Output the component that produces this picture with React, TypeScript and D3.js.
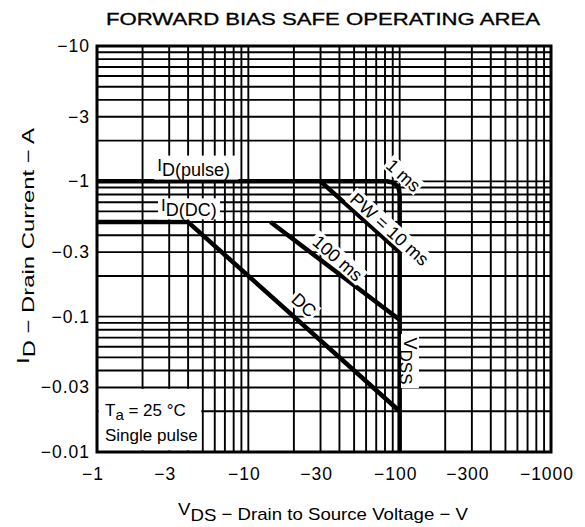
import React from 'react';
import * as d3 from 'd3';

const W = 585;
const H = 527;
const plot = { left: 97, right: 551, top: 46, bottom: 452 };
const FONT = '"Liberation Sans", Arial, Helvetica, sans-serif';

// axis ticks (values are magnitudes; labels carry the minus sign)
const xTickValues = [1, 3, 10, 30, 100, 300, 1000];
const xTickLabels = ['−1', '−3', '−10', '−30', '−100', '−300', '−1000'];
const yTickValues = [10, 3, 1, 0.3, 0.1, 0.03, 0.01];
const yTickLabels = ['−10', '−3', '−1', '−0.3', '−0.1', '−0.03', '−0.01'];

// SOA boundary curves: [ |VDS| (V), |ID| (A) ]
const pulseLimit: [number, number][] = [
  [1, 1], [82, 1], [90, 0.98], [96, 0.93], [99, 0.87], [100, 0.8], [100, 0.01],
];
const dcLimit: [number, number][] = [[1, 0.5], [4, 0.5], [100, 0.02]];
const pw10ms: [number, number][] = [[30, 1], [100, 0.3]];
const pw100ms: [number, number][] = [[14, 0.5], [100, 0.095]];

// annotation anchor points in data space
const ann1ms: [number, number] = [106, 1.11];
const ann10ms: [number, number] = [86, 0.444];
const ann100ms: [number, number] = [39, 0.271];
const annDC: [number, number] = [23.4, 0.122];
const annVDSS: [number, number] = [117, 0.047];
const annIDpulse: [number, number] = [2.5, 1.2];
const annIDdc: [number, number] = [2.65, 0.6];
const noteBox: [number, number, number, number] = [1, 5, 0.01, 0.03];

const x = d3.scaleLog().domain([1, 1000]).range([plot.left, plot.right]);
const y = d3.scaleLog().domain([0.01, 10]).range([plot.bottom, plot.top]);

const gridX: number[] = [];
for (let d = 0; d < 3; d++) for (let k = 1; k <= 9; k++) gridX.push(k * Math.pow(10, d));
gridX.push(1000);
const gridY: number[] = [];
for (let d = -2; d < 1; d++) for (let k = 1; k <= 9; k++) gridY.push(k * Math.pow(10, d));
gridY.push(10);

const line = d3
  .line<[number, number]>()
  .x((d) => x(d[0]))
  .y((d) => y(d[1]));

function RotLabel({ at, angle, size, w, h, children }: any) {
  const px = x(at[0]);
  const py = y(at[1]);
  return (
    <g transform={`translate(${px},${py}) rotate(${angle})`}>
      <rect x={-w / 2} y={-h / 2} width={w} height={h} fill="white" />
      <text x={0} y={size * 0.36} textAnchor="middle" fontSize={size} fontFamily={FONT}>
        {children}
      </text>
    </g>
  );
}

export default function App() {
  const [bx0, bx1, by0, by1] = noteBox;
  return (
    <svg
      width={W}
      height={H}
      style={{ position: 'absolute', left: 0, top: 0, background: 'white' }}
      fontFamily={FONT}
    >
      <rect x={0} y={0} width={W} height={H} fill="white" />
      {/* title */}
      <text x={323} y={25} textAnchor="middle" fontSize={16} textLength={434} lengthAdjust="spacingAndGlyphs"
        stroke="black" strokeWidth={0.3}>
        FORWARD BIAS SAFE OPERATING AREA
      </text>

      {/* grid */}
      <g stroke="black" strokeWidth={1.9}>
        {gridX.map((v, i) => (
          <line key={'gx' + i} x1={x(v)} x2={x(v)} y1={plot.top} y2={plot.bottom} />
        ))}
        {gridY.map((v, i) => (
          <line key={'gy' + i} x1={plot.left} x2={plot.right} y1={y(v)} y2={y(v)} />
        ))}
      </g>

      {/* note box */}
      <rect
        x={x(bx0) + 1.5}
        y={y(by1) + 1.5}
        width={x(bx1) - x(bx0) - 3}
        height={y(by0) - y(by1) - 3}
        fill="white"
      />
      <text x={x(bx0) + 8} y={416} fontSize={17}>
        T<tspan dy={4} fontSize={15}>a</tspan>
        <tspan dy={-4}> = 25 °C</tspan>
      </text>
      <text x={x(bx0) + 8} y={441} fontSize={17}>
        Single pulse
      </text>

      {/* curves */}
      <g fill="none" stroke="black" strokeWidth={4.5} strokeLinejoin="round">
        <path d={line(pulseLimit) || ''} />
        <path d={line(dcLimit) || ''} />
        <path d={line(pw10ms) || ''} />
        <path d={line(pw100ms) || ''} />
      </g>

      {/* frame */}
      <rect
        x={plot.left}
        y={plot.top}
        width={plot.right - plot.left}
        height={plot.bottom - plot.top}
        fill="none"
        stroke="black"
        strokeWidth={3}
      />

      {/* curve annotations */}
      <RotLabel at={ann1ms} angle={42} size={18} w={42} h={17}>1 ms</RotLabel>
      <RotLabel at={ann10ms} angle={42} size={18} w={104} h={18}>PW = 10 ms</RotLabel>
      <RotLabel at={ann100ms} angle={41} size={18} w={64} h={18}>100 ms</RotLabel>
      <RotLabel at={annDC} angle={42} size={18} w={30} h={18}>DC</RotLabel>
      <RotLabel at={annVDSS} angle={90} size={18} w={54} h={18}>
        V<tspan dy={4} fontSize={17}>DSS</tspan>
      </RotLabel>

      {/* ID labels */}
      <rect x={x(annIDpulse[0]) - 3} y={y(annIDpulse[1]) - 15} width={84} height={24} fill="white" />
      <text x={x(annIDpulse[0])} y={y(annIDpulse[1])} fontSize={17}>
        I<tspan dy={5} fontSize={18}>D(pulse)</tspan>
      </text>
      <rect x={x(annIDdc[0]) - 3} y={y(annIDdc[1]) - 13} width={62} height={21} fill="white" />
      <text x={x(annIDdc[0])} y={y(annIDdc[1])} fontSize={17}>
        I<tspan dy={5} fontSize={18}>D(DC)</tspan>
      </text>

      {/* x tick labels */}
      {xTickValues.map((v, i) => (
        <text key={'xt' + i} x={x(v) - 4} y={480} textAnchor="middle" fontSize={17.5} letterSpacing={1}>
          {xTickLabels[i]}
        </text>
      ))}
      {/* y tick labels */}
      {yTickValues.map((v, i) => (
        <text key={'yt' + i} x={90} y={y(v) + 6} textAnchor="end" fontSize={17.5} letterSpacing={1}>
          {yTickLabels[i]}
        </text>
      ))}

      {/* axis titles */}
      <text x={323} y={520} textAnchor="middle" fontSize={17} textLength={290} lengthAdjust="spacingAndGlyphs">
        <tspan dy={-5}>V</tspan>
        <tspan dy={6} fontSize={17}>DS</tspan>
        <tspan dy={-1}> − Drain to Source Voltage − V</tspan>
      </text>
      <text
        transform={`translate(34,246) rotate(-90)`}
        x={0}
        y={0}
        textAnchor="middle"
        fontSize={17}
        textLength={236}
        lengthAdjust="spacingAndGlyphs"
      >
        <tspan dy={-5}>I</tspan>
        <tspan dy={6} fontSize={17}>D</tspan>
        <tspan dy={-1}> − Drain Current − A</tspan>
      </text>
    </svg>
  );
}
